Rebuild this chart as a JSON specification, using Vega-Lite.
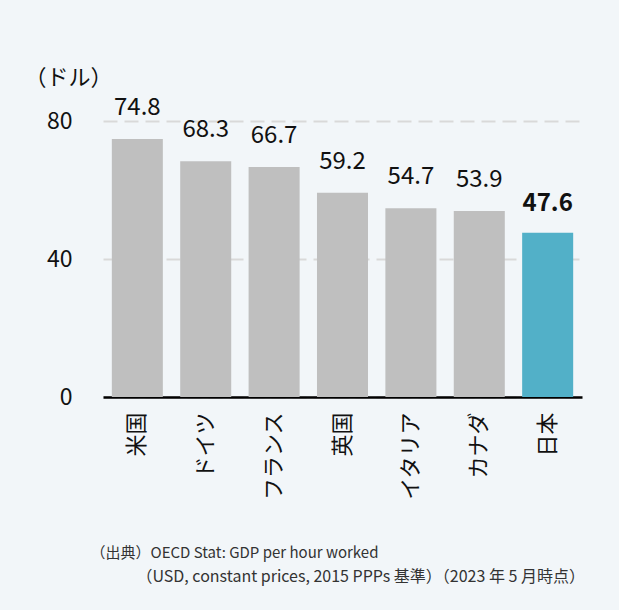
{
  "$schema": "https://vega.github.io/schema/vega-lite/v6.json",
  "width": 479,
  "height": 276,
  "autosize": {"type": "none"},
  "padding": {"left": 103, "top": 121, "right": 37, "bottom": 213},
  "background": "#f2f6f9",
  "data": {"values": [
    {"country": "米国", "value": 74.8},
    {"country": "ドイツ", "value": 68.3},
    {"country": "フランス", "value": 66.7},
    {"country": "英国", "value": 59.2},
    {"country": "イタリア", "value": 54.7},
    {"country": "カナダ", "value": 53.9},
    {"country": "日本", "value": 47.6}
  ]},
  "title": {
    "text": "（USD, constant prices, 2015 PPPs 基準）（2023 年 5 月時点）",
    "orient": "bottom",
    "anchor": "end",
    "frame": "group",
    "font": "Noto Sans CJK JP",
    "fontSize": 16,
    "fontWeight": "normal",
    "color": "#333333",
    "offset": 9,
    "dx": 3
  },
  "config": {
    "view": {"stroke": null},
    "font": "Noto Sans CJK JP"
  },
  "encoding": {
    "x": {
      "field": "country",
      "type": "nominal",
      "sort": null,
      "scale": {"paddingInner": 0.254, "paddingOuter": 0.129},
      "axis": {
        "title": "（出典）OECD Stat: GDP per hour worked",
        "titleFont": "Noto Sans CJK JP",
        "titleFontSize": 15,
        "titleFontWeight": "normal",
        "titleColor": "#333333",
        "titleAnchor": "start",
        "titleAlign": "left",
        "titleBaseline": "middle",
        "titleX": -13,
        "titleY": 155,
        "labelAngle": 270,
        "labelFont": "Noto Sans CJK JP",
        "labelFontSize": 22,
        "labelColor": "#111111",
        "labelPadding": 15,
        "ticks": false,
        "domainColor": "#000000",
        "domainWidth": 2.5,
        "grid": false
      }
    },
    "y": {
      "field": "value",
      "type": "quantitative",
      "scale": {"domain": [0, 80], "nice": false},
      "axis": {
        "title": "（ドル）",
        "titleAngle": 0,
        "titleAlign": "left",
        "titleBaseline": "middle",
        "titleX": -79,
        "titleY": -44,
        "titleFont": "Noto Sans CJK JP",
        "titleFontSize": 22,
        "titleFontWeight": "normal",
        "titleColor": "#111111",
        "values": [0, 40, 80],
        "labelFont": "Noto Sans CJK JP",
        "labelFontSize": 23,
        "labelColor": "#111111",
        "labelPadding": 31,
        "ticks": false,
        "domain": false,
        "grid": true,
        "gridColor": "#d9d9d9",
        "gridWidth": 2,
        "gridDash": [14, 7]
      }
    }
  },
  "layer": [
    {
      "mark": {"type": "bar"},
      "encoding": {
        "color": {
          "condition": {"test": "datum.country === '日本'", "value": "#52b0c8"},
          "value": "#bfbfbf"
        }
      }
    },
    {
      "transform": [{"filter": "datum.country !== '日本'"}],
      "mark": {"type": "text", "baseline": "alphabetic", "dy": -24, "fontSize": 24, "color": "#111111", "font": "Noto Sans CJK JP"},
      "encoding": {"text": {"field": "value", "type": "quantitative", "format": ".1f"}}
    },
    {
      "transform": [{"filter": "datum.country === '日本'"}],
      "mark": {"type": "text", "baseline": "alphabetic", "dy": -22, "fontSize": 24, "fontWeight": "bold", "color": "#111111", "font": "Noto Sans CJK JP"},
      "encoding": {"text": {"field": "value", "type": "quantitative", "format": ".1f"}}
    }
  ]
}
